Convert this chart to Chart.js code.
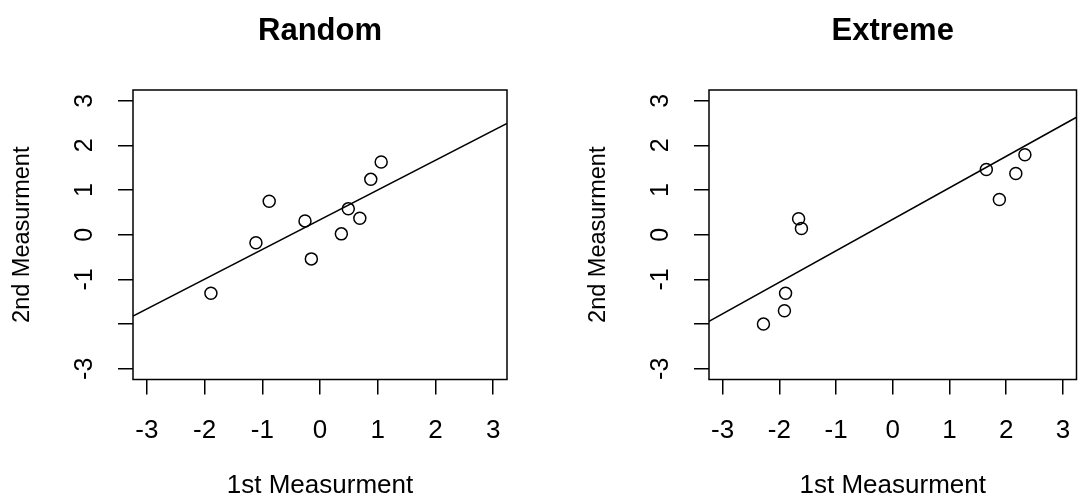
<!DOCTYPE html>
<html>
<head>
<meta charset="utf-8">
<script src="https://cdn.jsdelivr.net/npm/chart.js@4.4.0/dist/chart.umd.min.js"></script>
<style>
  html, body { margin: 0; padding: 0; background: #fff; }
  #wrap { position: relative; width: 1084px; height: 501px; }
  .panel { position: absolute; top: 0; width: 542px; height: 501px; }
</style>
</head>
<body>
<div id="wrap">
  <div class="panel" style="left:0"><canvas id="random" width="542" height="501"></canvas></div>
  <div class="panel" style="left:542px"><canvas id="extreme" width="542" height="501"></canvas></div>
</div>
<script>
const axisMin = -3.24;
const axisMax = 3.24;
const tickValues = [-3, -2, -1, 0, 1, 2, 3];
const xTickLabels = ['-3', '-2', '-1', '0', '1', '2', '3'];
// "-2" is left out on the y axis, it would run into its neighbours
const yTickLabels = ['-3', '', '-1', '0', '1', '2', '3'];

const randomX = [-1.89, -1.11, -0.88, -0.26, -0.15, 0.37, 0.49, 0.69, 0.88, 1.06];
const randomY = [-1.31, -0.18, 0.75, 0.31, -0.54, 0.02, 0.58, 0.37, 1.24, 1.63];
const randomFitX = [-3.24, 3.24];
const randomFitY = [-1.82, 2.49];

const extremeX = [-2.28, -1.91, -1.89, -1.66, -1.61, 1.65, 1.88, 2.17, 2.33];
const extremeY = [-2.00, -1.70, -1.31, 0.36, 0.14, 1.46, 0.79, 1.37, 1.79];
const extremeFitX = [-3.24, 3.24];
const extremeFitY = [-1.94, 2.63];

const fontFamily = '"Liberation Sans", Arial, Helvetica, sans-serif';

// box round the plot region and the upright y tick labels
const frameAndYLabels = {
  id: 'frameAndYLabels',
  afterDraw(chart) {
    const { ctx, chartArea: a, scales: { y } } = chart;
    ctx.save();
    ctx.strokeStyle = '#000';
    ctx.lineWidth = 1.5;
    ctx.strokeRect(a.left, a.top, a.right - a.left, a.bottom - a.top);
    ctx.font = '25px ' + fontFamily;
    ctx.fillStyle = '#000';
    ctx.textAlign = 'center';
    ctx.textBaseline = 'middle';
    tickValues.forEach((v, i) => {
      if (!yTickLabels[i]) return;
      ctx.save();
      ctx.translate(a.left - 48, y.getPixelForValue(v));
      ctx.rotate(-Math.PI / 2);
      ctx.fillText(yTickLabels[i], 0, 0);
      ctx.restore();
    });
    ctx.restore();
  }
};

function toPoints(xs, ys) {
  return xs.map((x, i) => ({ x: x, y: ys[i] }));
}

function fixedTicks(scale) {
  scale.ticks = tickValues.map(v => ({ value: v }));
}

function drawPanel(canvasId, title, xs, ys, fitX, fitY, yAxisWidth, yTitleLeft, rightPad) {
  return new Chart(document.getElementById(canvasId), {
    type: 'scatter',
    data: {
      datasets: [{
        data: toPoints(xs, ys),
        pointStyle: 'circle',
        pointRadius: 6,
        pointBorderWidth: 1.5,
        pointBorderColor: '#000',
        pointBackgroundColor: 'rgba(0,0,0,0)',
        showLine: false
      }, {
        data: toPoints(fitX, fitY),
        showLine: true,
        borderColor: '#000',
        borderWidth: 1.5,
        pointRadius: 0
      }]
    },
    options: {
      responsive: false,
      animation: false,
      devicePixelRatio: 1,
      events: [],
      layout: { padding: { left: 0, right: rightPad, top: 0, bottom: 0 } },
      plugins: {
        legend: { display: false },
        tooltip: { enabled: false },
        title: {
          display: true,
          text: title,
          fullSize: false,
          color: '#000',
          font: { family: fontFamily, size: 31, weight: 'bold', lineHeight: 1.2 },
          padding: { top: 13, bottom: 39.8 }
        }
      },
      scales: {
        x: {
          type: 'linear',
          min: axisMin,
          max: axisMax,
          afterBuildTicks: fixedTicks,
          ticks: {
            autoSkip: false,
            maxRotation: 0,
            padding: 3,
            color: '#000',
            font: { family: fontFamily, size: 26, lineHeight: 2.55 },
            callback: v => xTickLabels[tickValues.indexOf(v)]
          },
          grid: { drawOnChartArea: false, drawTicks: true, tickLength: 15, color: '#000', lineWidth: 1.5 },
          border: { display: false },
          title: {
            display: true,
            text: '1st Measurment',
            color: '#000',
            font: { family: fontFamily, size: 26, lineHeight: 1.2 },
            padding: { top: 3, bottom: 0 }
          }
        },
        y: {
          type: 'linear',
          min: axisMin,
          max: axisMax,
          afterBuildTicks: fixedTicks,
          ticks: { display: false },
          grid: { drawOnChartArea: false, drawTicks: true, tickLength: 15, color: '#000', lineWidth: 1.5 },
          border: { display: false },
          title: {
            display: true,
            text: '2nd Measurment',
            color: '#000',
            font: { family: fontFamily, size: 23.5, lineHeight: 1.2 },
            padding: { top: yTitleLeft, bottom: yAxisWidth - 15 - 28.2 - yTitleLeft }
          }
        }
      }
    },
    plugins: [frameAndYLabels]
  });
}

drawPanel('random', 'Random', randomX, randomY, randomFitX, randomFitY, 133, 8.9, 35);
drawPanel('extreme', 'Extreme', extremeX, extremeY, extremeFitX, extremeFitY, 167, 42.9, 1.3);
</script>
</body>
</html>
